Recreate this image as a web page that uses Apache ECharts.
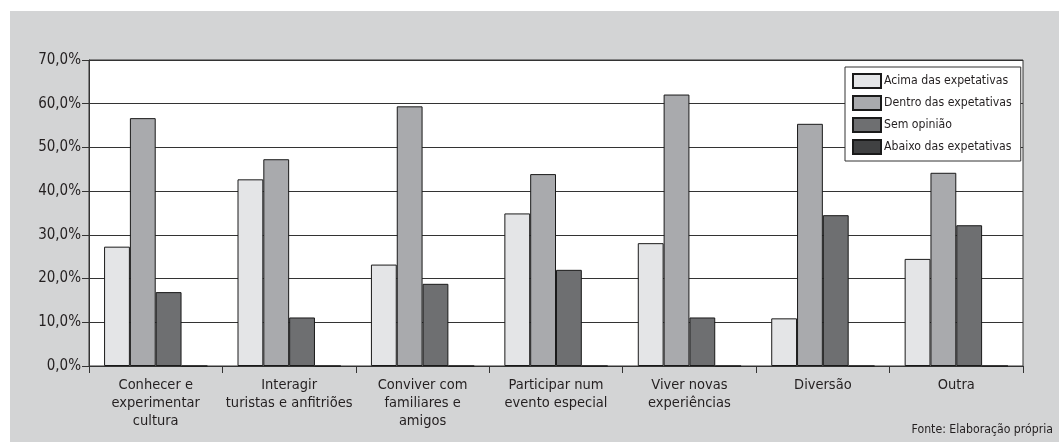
<!DOCTYPE html>
<html>
<head>
<meta charset="utf-8">
<script src="https://cdn.jsdelivr.net/npm/echarts@6/dist/echarts.min.js"></script>
<style>
  html, body { margin: 0; padding: 0; background: #ffffff; }
  #wrap { position: absolute; left: 10px; top: 11px; width: 1049px; height: 431px; }
  #chart { width: 100%; height: 100%; }
</style>
</head>
<body>
<div id="wrap"><div id="chart"></div></div>
<script>
// Motivações da visita e avaliação face às expetativas (%)
const categories = [
  'Conhecer e\nexperimentar\ncultura',
  'Interagir\nturistas e anfitriões',
  'Conviver com\nfamiliares e\namigos',
  'Participar num\nevento especial',
  'Viver novas\nexperiências',
  'Diversão',
  'Outra'
];
const seriesNames = ['Acima das expetativas', 'Dentro das expetativas', 'Sem opinião', 'Abaixo das expetativas'];
const acima  = [27.3, 42.7, 23.2, 34.9, 28.1, 10.9, 24.5];
const dentro = [56.7, 47.3, 59.4, 43.9, 62.1, 55.4, 44.2];
const semOpiniao = [16.9, 11.1, 18.8, 22.0, 11.1, 34.5, 32.2];
const abaixo = [0, 0, 0, 0, 0, 0, 0];
const yTicks = { min: 0, max: 70, step: 10 };
const source = 'Fonte: Elaboração própria';

const FONT = '"DejaVu Sans Condensed", "DejaVu Sans", sans-serif';
const INK = '#231f20';
const fills = ['#e4e5e7', '#a9aaad', '#6e6f71', '#404142'];
const values = [acima, dentro, semOpiniao, abaixo];

const chart = echarts.init(document.getElementById('chart'), null, { renderer: 'canvas' });

chart.setOption({
  backgroundColor: '#d3d4d5',
  animation: false,
  textStyle: { fontFamily: FONT, color: INK },
  title: {
    text: source,
    right: 1,
    bottom: 1,
    textStyle: { fontFamily: FONT, fontSize: 12.2, fontWeight: 'normal', color: INK }
  },
  grid: {
    left: 79, right: 36, top: 49, bottom: 76,
    show: true,
    backgroundColor: '#ffffff',
    borderColor: '#333333',
    borderWidth: 1
  },
  legend: {
    orient: 'vertical',
    left: 835,
    top: 56,
    padding: [6, 9, 6, 7],
    itemWidth: 28,
    itemHeight: 14,
    itemGap: 6,
    backgroundColor: '#ffffff',
    borderColor: '#333333',
    borderWidth: 1,
    borderRadius: 0,
    icon: 'rect',
    textStyle: { fontFamily: FONT, fontSize: 12.2, color: INK, padding: [0, 0, 0, -2] },
    data: seriesNames
  },
  xAxis: {
    type: 'category',
    data: categories,
    axisLine: { lineStyle: { color: '#333333', width: 1 } },
    axisTick: { show: true, length: 7, lineStyle: { color: '#333333' } },
    axisLabel: {
      interval: 0, margin: 10, fontFamily: FONT, fontSize: 14.5,
      lineHeight: 18, color: INK
    }
  },
  yAxis: {
    type: 'value',
    min: yTicks.min,
    max: yTicks.max,
    interval: yTicks.step,
    axisLine: { show: true, lineStyle: { color: '#333333', width: 1 } },
    axisTick: { show: true, length: 7, lineStyle: { color: '#333333' } },
    axisLabel: {
      margin: 8, fontFamily: FONT, fontSize: 15, color: INK,
      formatter: v => v.toFixed(1).replace('.', ',') + '%'
    },
    splitLine: { lineStyle: { color: '#333333', width: 1 } }
  },
  series: seriesNames.map((name, i) => ({
    name,
    type: 'bar',
    data: values[i],
    barGap: '0%',
    barCategoryGap: '22.6%',
    itemStyle: { color: fills[i], borderColor: '#1a1a1a', borderWidth: 1 }
  }))
});
</script>
</body>
</html>
